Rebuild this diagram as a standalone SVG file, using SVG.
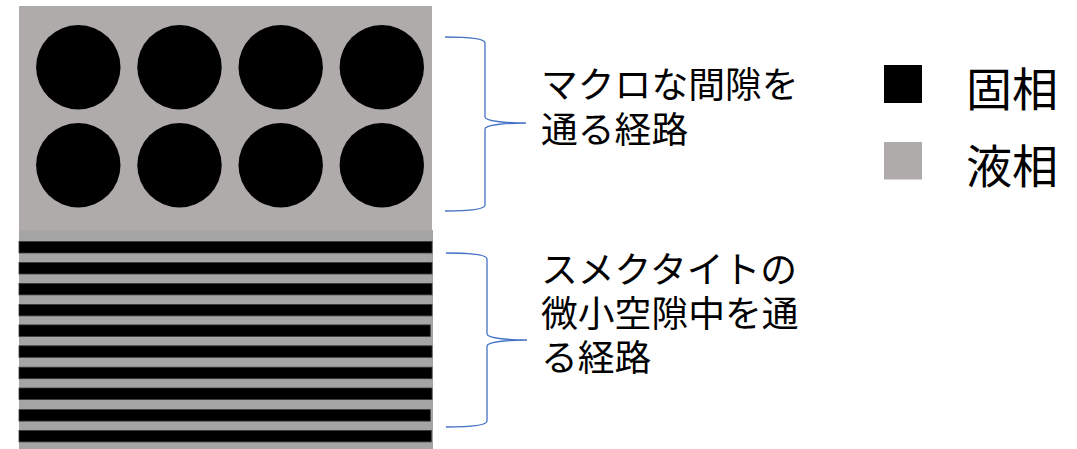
<svg xmlns="http://www.w3.org/2000/svg" width="1077" height="449" viewBox="0 0 1077 449">
<defs>
<style>
.solid{fill:#000000;}
.liquid{fill:#AFABAB;}
.liquid2{fill:#A5A5A5;}
.bar{fill:#000000;stroke:#3A3A3A;stroke-width:0.8;}
.brace{fill:none;stroke:#4472C4;stroke-width:1.3;}
.lbl{font-family:"Noto Sans CJK JP","Noto Sans",sans-serif;font-size:36.8px;fill:#000000;}
.leg{font-family:"Noto Sans CJK JP","Noto Sans",sans-serif;font-size:46px;fill:#000000;}
</style>
</defs>
<rect width="1077" height="449" fill="#FFFFFF"/>
<g id="macro-block">
<rect class="liquid" x="19" y="6" width="413" height="224"/>
<circle class="solid" cx="78.3" cy="67.2" r="42.2"/>
<circle class="solid" cx="179.5" cy="67.2" r="42.2"/>
<circle class="solid" cx="280.7" cy="67.2" r="42.2"/>
<circle class="solid" cx="381.8" cy="67.2" r="42.2"/>
<circle class="solid" cx="78.3" cy="165.2" r="42.2"/>
<circle class="solid" cx="179.5" cy="165.2" r="42.2"/>
<circle class="solid" cx="280.7" cy="165.2" r="42.2"/>
<circle class="solid" cx="381.8" cy="165.2" r="42.2"/>
</g>
<g id="smectite-block">
<rect class="liquid2" x="19" y="230" width="414" height="219"/>
<rect class="bar" x="19" y="241.5" width="413" height="11.5"/>
<rect class="bar" x="19" y="262.5" width="413" height="11.5"/>
<rect class="bar" x="19" y="283.4" width="413" height="11.5"/>
<rect class="bar" x="19" y="304.4" width="413" height="11.5"/>
<rect class="bar" x="19" y="324.9" width="411.3" height="11.5"/>
<rect class="bar" x="19" y="345.8" width="413" height="11.5"/>
<rect class="bar" x="19" y="367.2" width="413" height="11.5"/>
<rect class="bar" x="19" y="388" width="413" height="11.5"/>
<rect class="bar" x="19" y="409.6" width="411.3" height="11.5"/>
<rect class="bar" x="19" y="430.4" width="412.3" height="11.5"/>
</g>
<g id="connectors">
<path class="brace" d="M445,37 C466,37 485,38 485,43 L485,117 C485,121 505,123 526,123 C505,123 485,125 485,129 L485,205 C485,210 466,211 445,211"/>
<path class="brace" d="M446,253 C467,253 487,254 487,259 L487,334 C487,338 507,340 527,340 C507,340 487,342 487,346 L487,421 C487,426 467,427 446,427"/>
</g>
<g id="label-macro">
<text class="lbl" x="541"><tspan x="541" y="98">マクロな間隙を</tspan><tspan x="541" y="143">通る経路</tspan></text>
</g>
<g id="label-smectite">
<text class="lbl" x="541"><tspan x="541" y="283">スメクタイトの</tspan><tspan x="541" y="327">微小空隙中を通</tspan><tspan x="541" y="371">る経路</tspan></text>
</g>
<g id="legend-solid">
<rect class="solid" x="884" y="65" width="38" height="38"/>
<text class="leg" x="966" y="106">固相</text>
</g>
<g id="legend-liquid">
<rect class="liquid" x="884" y="142" width="38" height="37.5"/>
<text class="leg" x="966" y="183">液相</text>
</g>
</svg>
